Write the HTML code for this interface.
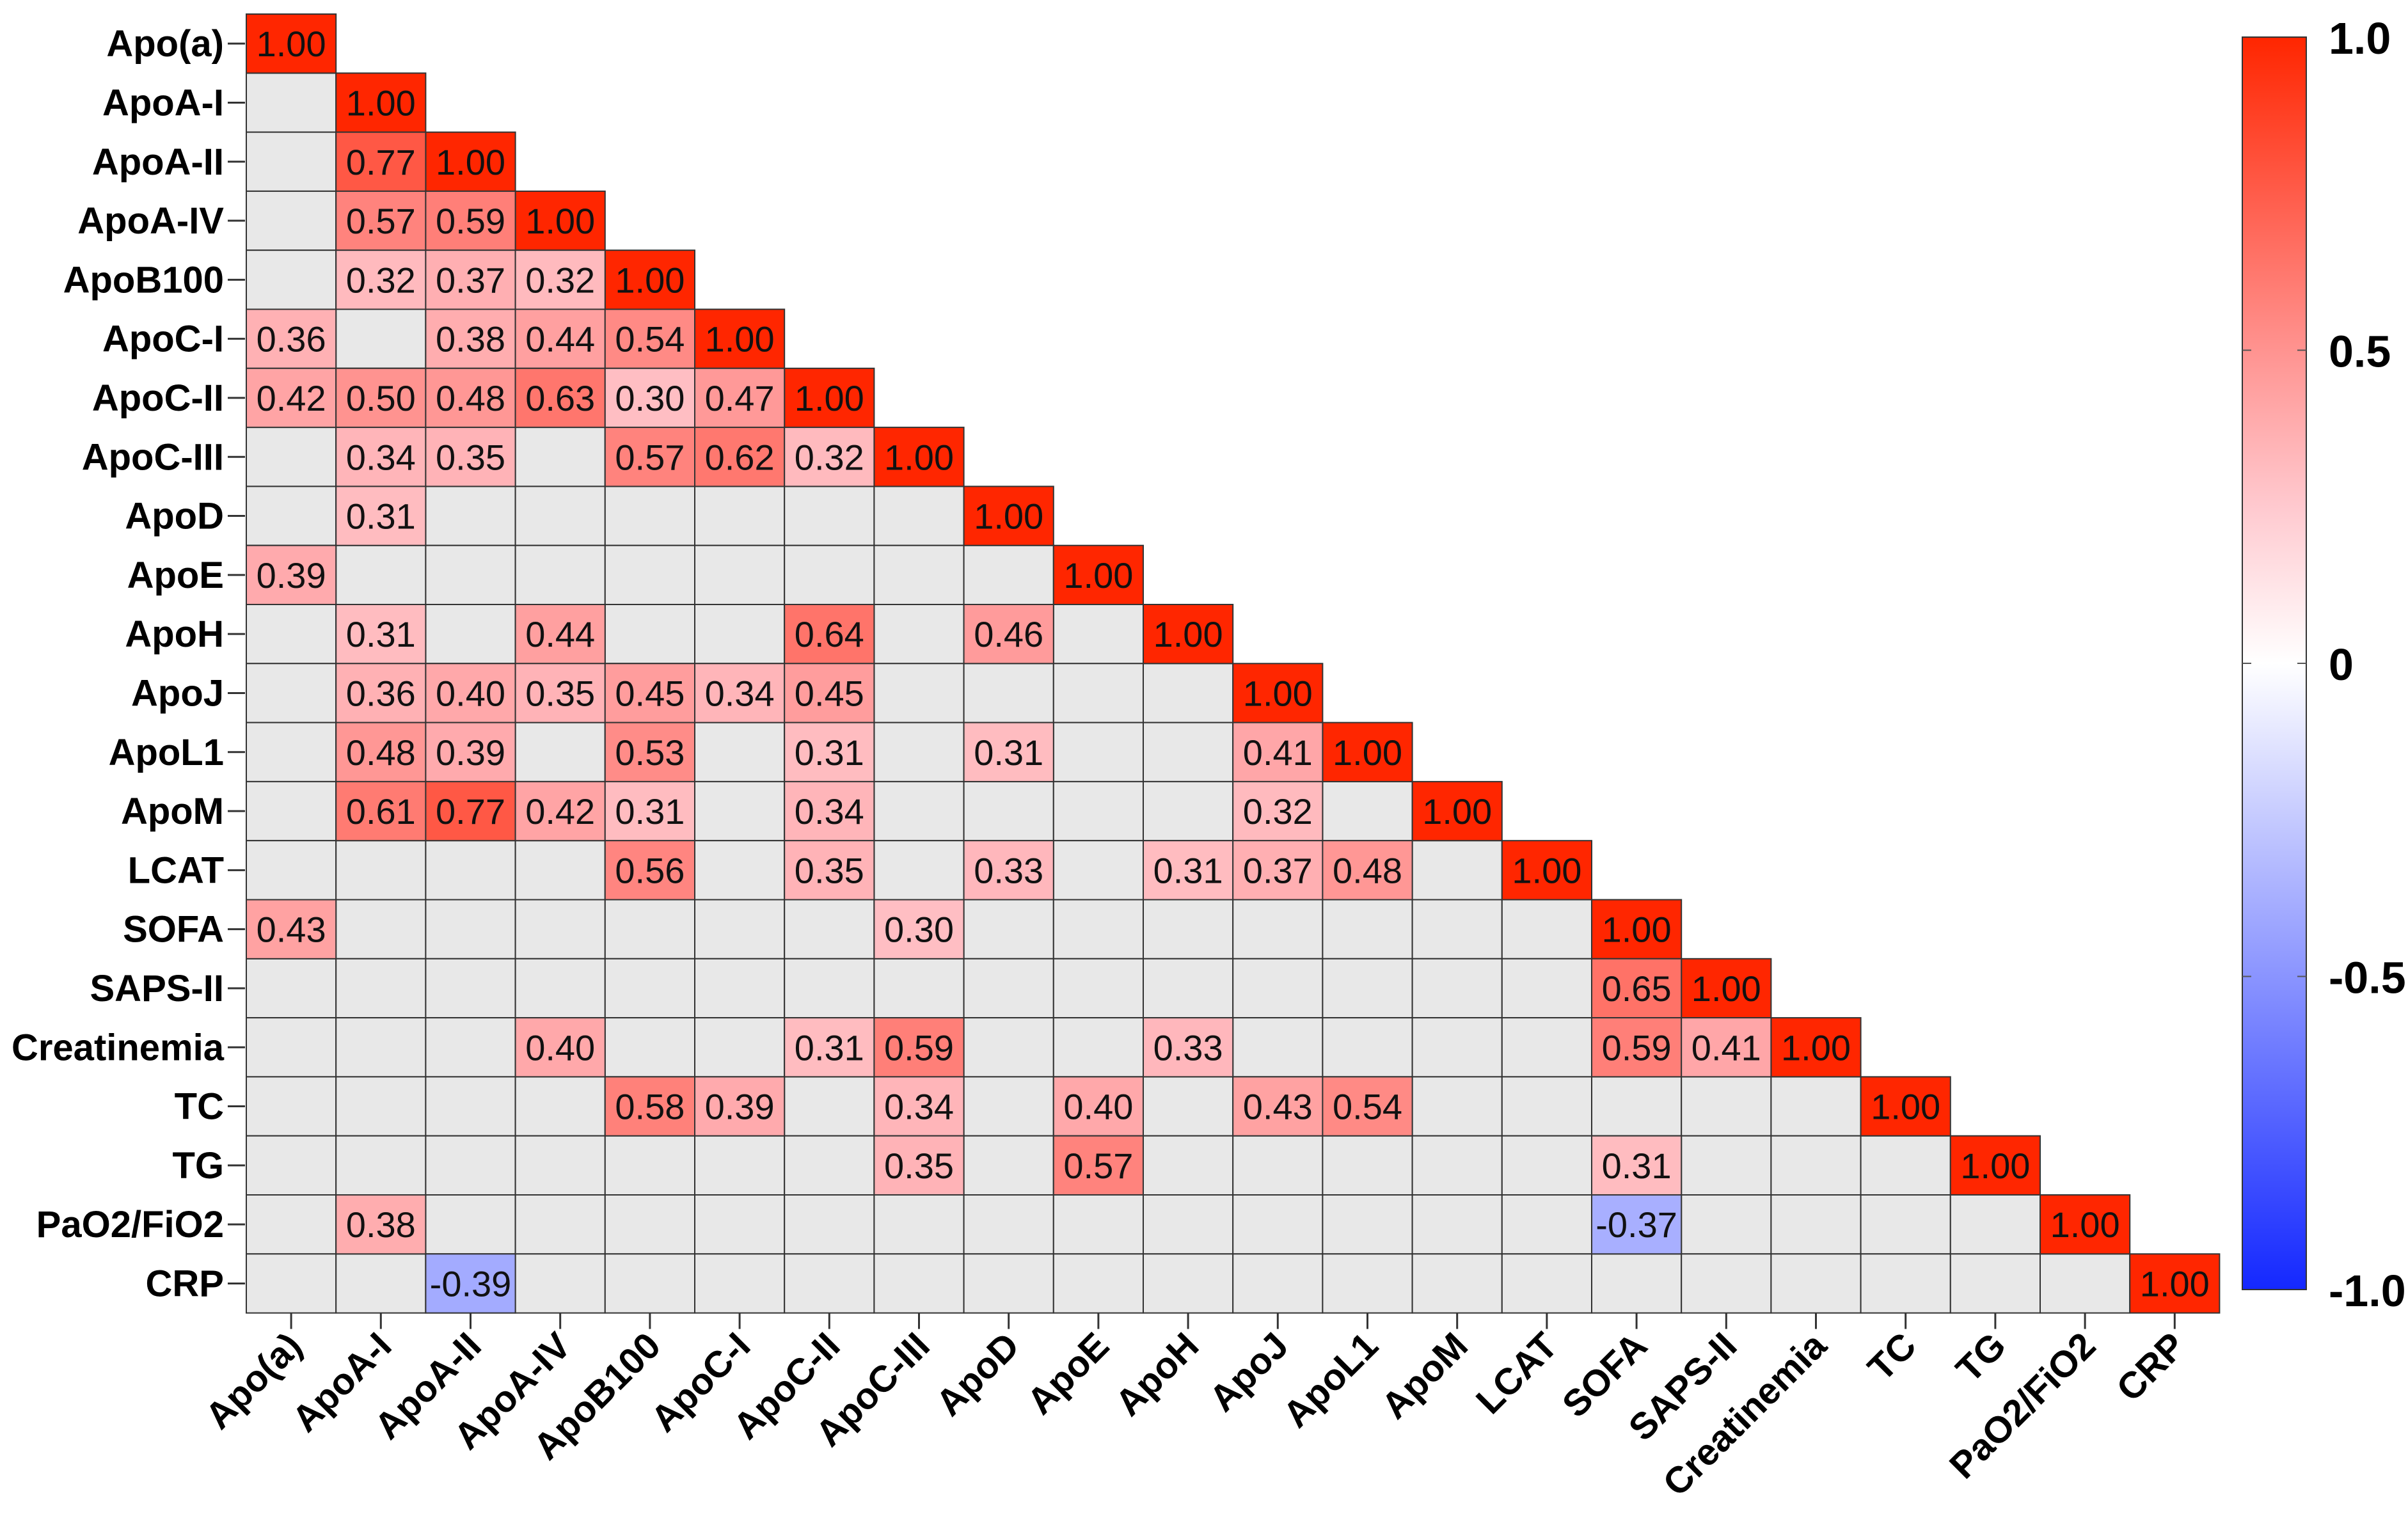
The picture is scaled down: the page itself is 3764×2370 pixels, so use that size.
<!DOCTYPE html>
<html><head><meta charset="utf-8"><style>
html,body{margin:0;padding:0;background:#fff;}
svg{display:block;}
</style></head><body>
<svg id="chart" width="3764" height="2370" xmlns="http://www.w3.org/2000/svg"></svg>
<script>
const categories = ["Apo(a)","ApoA-I","ApoA-II","ApoA-IV","ApoB100","ApoC-I","ApoC-II","ApoC-III","ApoD","ApoE","ApoH","ApoJ","ApoL1","ApoM","LCAT","SOFA","SAPS-II","Creatinemia","TC","TG","PaO2/FiO2","CRP"];
const cellRows = [2,3,3,4,4,4,5,5,5,5,6,6,6,6,6,6,7,7,7,7,7,8,9,10,10,10,10,11,11,11,11,11,11,12,12,12,12,12,12,13,13,13,13,13,13,14,14,14,14,14,14,15,15,16,17,17,17,17,17,17,18,18,18,18,18,18,19,19,19,20,20,21];
const cellCols = [1,1,2,1,2,3,0,2,3,4,0,1,2,3,4,5,1,2,4,5,6,1,0,1,3,6,8,1,2,3,4,5,6,1,2,4,6,8,11,1,2,3,4,6,11,4,6,8,10,11,12,0,7,15,3,6,7,10,15,16,4,5,7,9,11,12,7,9,15,1,15,2];
const cellValues = [0.77,0.57,0.59,0.32,0.37,0.32,0.36,0.38,0.44,0.54,0.42,0.50,0.48,0.63,0.30,0.47,0.34,0.35,0.57,0.62,0.32,0.31,0.39,0.31,0.44,0.64,0.46,0.36,0.40,0.35,0.45,0.34,0.45,0.48,0.39,0.53,0.31,0.31,0.41,0.61,0.77,0.42,0.31,0.34,0.32,0.56,0.35,0.33,0.31,0.37,0.48,0.43,0.30,0.65,0.40,0.31,0.59,0.33,0.59,0.41,0.58,0.39,0.34,0.40,0.43,0.54,0.35,0.57,0.31,0.38,-0.37,-0.39];
const colorbarTicks = [1.0,0.5,0,-0.5,-1.0];
const colorbarLabels = ["1.0","0.5","0","-0.5","-1.0"];

const NS="http://www.w3.org/2000/svg";
const svg=document.getElementById('chart');
const X0=385, Y0=22, CW=140.2, CH=92.3;
const xPos=j=>X0+j*CW;
const yPos=i=>Y0+i*CH;
const CB={x:3505,w:100,top:58,bot:2016};
const cbY=v=>CB.top+(1-v)/2*(CB.bot-CB.top);
function color(v){
  if(v>=0){const t=v;return `rgb(255,${Math.round(255-217*t)},${Math.round(255-255*Math.pow(t,1.2))})`;}
  const t=-v;return `rgb(${Math.round(255-235*t)},${Math.round(255-215*t)},255)`;
}
function mk(tag,attrs,parent){const e=document.createElementNS(NS,tag);for(const k in attrs)e.setAttribute(k,attrs[k]);(parent||svg).appendChild(e);return e;}
const n=categories.length;
const gCells=mk('g',{});


for(let i=0;i<n;i++){for(let j=0;j<i;j++){
  const r=mk('rect',{x:xPos(j),y:yPos(i),width:CW,height:CH,fill:'#e8e8e8',stroke:'#333','stroke-width':2},gCells);
  
  
}}
for(let i=0;i<n;i++){
  const r=mk('rect',{x:xPos(i),y:yPos(i),width:CW,height:CH,fill:color(1),stroke:'#333','stroke-width':2},gCells);
  
  
  const t=mk('text',{x:xPos(i)+CW/2,y:yPos(i)+CH/2+20,'text-anchor':'middle','font-family':'Liberation Sans, sans-serif','font-size':56,fill:'#111'},gCells);
  t.textContent='1.00';
  
  
}
for(let k=0;k<cellValues.length;k++){
  const i=cellRows[k],j=cellCols[k],v=cellValues[k];
  const r=mk('rect',{x:xPos(j),y:yPos(i),width:CW,height:CH,fill:color(v),stroke:'#333','stroke-width':2},gCells);
  
  
  const t=mk('text',{x:xPos(j)+CW/2,y:yPos(i)+CH/2+20,'text-anchor':'middle','font-family':'Liberation Sans, sans-serif','font-size':56,fill:'#111'},gCells);
  t.textContent=v.toFixed(2);
  
  
}
for(let i=0;i<n;i++){
  const cy=yPos(i)+CH/2;
  const tk=mk('line',{x1:356,x2:383,y1:cy,y2:cy,stroke:'#333','stroke-width':3});
  
  
  const t=mk('text',{x:350,y:cy+20,'text-anchor':'end','font-family':'Liberation Sans, sans-serif','font-weight':'bold','font-size':58,fill:'#000'});
  t.textContent=categories[i];
  
  
}
const yb=yPos(n);
for(let j=0;j<n;j++){
  const cx=xPos(j)+CW/2;
  const tk=mk('line',{x1:cx,x2:cx,y1:yb,y2:yb+25,stroke:'#333','stroke-width':3});
  
  
  const t=mk('text',{x:cx+20,y:yb+55,'text-anchor':'end','font-family':'Liberation Sans, sans-serif','font-weight':'bold','font-size':58,fill:'#000',transform:`rotate(-45 ${cx+20} ${yb+55})`});
  t.textContent=categories[j];
  
  
}
const defs=mk('defs',{});
const lg=mk('linearGradient',{id:'cbg',x1:0,y1:0,x2:0,y2:1},defs);
[[0,1],[0.125,0.75],[0.25,0.5],[0.375,0.25],[0.5,0],[0.75,-0.5],[1,-1]].forEach(([o,v])=>mk('stop',{offset:o,'stop-color':color(v)},lg));
const cb=mk('rect',{x:CB.x,y:CB.top,width:CB.w,height:CB.bot-CB.top,fill:'url(#cbg)',stroke:'#333','stroke-width':2});


for(let k=0;k<colorbarTicks.length;k++){
  const y=cbY(colorbarTicks[k]);
  const t=mk('text',{x:3640,y:y+26,'font-family':'Liberation Sans, sans-serif','font-weight':'bold','font-size':70,fill:'#000'});
  t.textContent=colorbarLabels[k];
  
  
  if(k>0&&k<colorbarTicks.length-1){
    const l=mk('line',{x1:CB.x,x2:CB.x+14,y1:y,y2:y,stroke:'#555','stroke-width':2});
    
    
    const l2=mk('line',{x1:CB.x+CB.w-14,x2:CB.x+CB.w,y1:y,y2:y,stroke:'#555','stroke-width':2});
    
    
  }
}
</script>
</body></html>
